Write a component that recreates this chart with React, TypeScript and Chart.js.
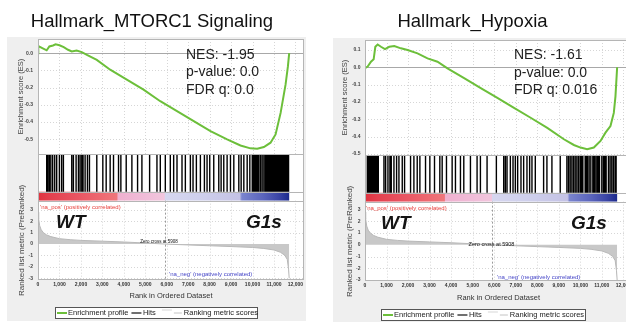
import React, { useEffect, useRef } from "react";
import { Chart, registerables } from "chart.js";

Chart.register(...registerables);

const FONT = "'Liberation Sans', Arial, Helvetica, sans-serif";

// ---------- shared ranked list ----------
const rankTicks = [0, 1000, 2000, 3000, 4000, 5000, 6000, 7000, 8000, 9000, 10000, 11000, 12000];
const metricTicks = [3, 2, 1, 0, -1, -2, -3];
const rankedMetricRank = [0, 30, 80, 150, 250, 400, 600, 1000, 1500, 2000, 3000, 4000, 5000, 5908, 7000, 8000, 9000, 10000, 10500, 11000, 11300, 11500, 11620, 11680, 11710];
const rankedMetricValue = [2.8, 2.2, 1.6, 1.25, 1.0, 0.8, 0.65, 0.47, 0.38, 0.32, 0.25, 0.18, 0.09, 0, -0.08, -0.15, -0.22, -0.3, -0.38, -0.52, -0.72, -0.98, -1.35, -2.2, -3.0];
const zeroCrossRank = 5908;
const listEndRank = 11710;
const colorStopRank = [0, 600, 1800, 3000, 3690, 3720, 5000, 5890, 5920, 7500, 9400, 9500, 10500, 11200, 11710];
const colorStopColor = ["#e0323f", "#e4414f", "#e95462", "#ee6a72", "#ef777c", "#efb0cf", "#f0bcd8", "#f2c6dd", "#d6d6ef", "#cfd0ec", "#c4c2e5", "#7a84ce", "#5a64bc", "#3c46a6", "#1c2a8c"];
const legendLabels = ["Enrichment profile", "Hits", "Ranking metric scores"];
const xAxisTitle = "Rank in Ordered Dataset";
const esAxisTitle = "Enrichment score (ES)";
const metricAxisTitle = "Ranked list metric (PreRanked)";
const posLabel = "'na_pos' (positively correlated)";
const negLabel = "'na_neg' (negatively correlated)";
const groupLabels = ["WT", "G1s"];

// ---------- Hallmark MTORC1 ----------
const mtorcTitle = "Hallmark_MTORC1 Signaling";
const mtorcStats = ["NES: -1.95", "p-value: 0.0", "FDR q: 0.0"];
const mtorcEsTicks = [0, -0.1, -0.2, -0.3, -0.4, -0.5];
const mtorcEsRank = [0, 15, 200, 405, 530, 700, 820, 1000, 1200, 1400, 1573, 1800, 2040, 2280, 2740, 3364, 4140, 4920, 5700, 6480, 7260, 8040, 8816, 9440, 9900, 10220, 10530, 10840, 11075, 11310, 11540, 11650, 11710];
const mtorcEsValue = [0, 0.042, 0.03, 0.017, 0.039, 0.045, 0.052, 0.046, 0.035, 0.02, 0.01, 0.015, 0.006, -0.01, -0.039, -0.096, -0.154, -0.212, -0.279, -0.337, -0.395, -0.453, -0.501, -0.536, -0.553, -0.555, -0.545, -0.52, -0.472, -0.347, -0.183, -0.077, 0];
const mtorcHits = [15, 405, 460, 530, 600, 685, 780, 872, 997, 1100, 1184, 1573, 1650, 1776, 1885, 1963, 2040, 2100, 2196, 2305, 2399, 2741, 3022, 3178, 3364, 3520, 3754, 3863, 4112, 4377, 4642, 4844, 5203, 5545, 5701, 5935, 6168, 6324, 6480, 6713, 6869, 7103, 7227, 7383, 7570, 7757, 7881, 8006, 8193, 8427, 8536, 8660, 8816, 8972, 9128, 9361, 9470, 9595, 9751, 9875, 9988, 10050, 10093, 10140, 10187, 10240, 10296, 10374, 10450, 10530, 10600, 10654, 10700, 10763, 10800, 10841, 10880, 10919, 10960, 10997, 11040, 11075, 11110, 11153, 11190, 11231, 11270, 11308, 11350, 11386, 11420, 11464, 11500, 11542, 11580, 11620, 11650, 11680];

// ---------- Hallmark Hypoxia ----------
const hypoxiaTitle = "Hallmark_Hypoxia";
const hypoxiaStats = ["NES: -1.61", "p-value: 0.0", "FDR q: 0.016"];
const hypoxiaEsTicks = [0.1, 0, -0.1, -0.2, -0.3, -0.4, -0.5];
const hypoxiaEsRank = [0, 124, 278, 402, 479, 587, 742, 927, 1128, 1360, 1668, 1977, 2440, 2904, 3367, 3831, 4603, 5376, 6148, 6920, 7693, 8465, 9237, 9700, 10010, 10319, 10628, 10937, 11169, 11400, 11555, 11632, 11710];
const hypoxiaEsValue = [-0.005, 0.004, 0.032, 0.046, 0.118, 0.131, 0.118, 0.105, 0.118, 0.122, 0.109, 0.099, 0.08, 0.051, 0.032, -0.006, -0.063, -0.12, -0.177, -0.234, -0.291, -0.349, -0.415, -0.448, -0.463, -0.472, -0.463, -0.425, -0.377, -0.339, -0.263, -0.168, 0];
const hypoxiaHits = [108, 155, 216, 263, 309, 371, 417, 463, 525, 572, 618, 880, 958, 1066, 1158, 1220, 1344, 1467, 1576, 1730, 1838, 2116, 2271, 2425, 2549, 2811, 3012, 3228, 3475, 3584, 3784, 4047, 4201, 4433, 4588, 4897, 5205, 5360, 5669, 6101, 6441, 6518, 6596, 6750, 6874, 6982, 7090, 7244, 7368, 7522, 7646, 7754, 7909, 8295, 8449, 8681, 9067, 9376, 9453, 9530, 9608, 9685, 9762, 9839, 9916, 9994, 10060, 10117, 10225, 10290, 10334, 10410, 10488, 10581, 10640, 10689, 10766, 10830, 10890, 10998, 11075, 11140, 11199, 11307, 11384, 11461, 11538, 11616, 11662];

// ---------- layout (positions/sizes only) ----------
const LEFT_LAYOUT = {
  left: 0, width: 313, xMax: 12400,
  pad: { left: 0, right: 9, top: 0, bottom: 20.5 },
  axisW: 38, esMin: -0.586, esMax: 0.0825, metMin: -3.15, metMax: 3.8,
  titlePad: { top: 10.4, bottom: 6.4 }, esTitlePad: 16, metTitlePad: 16.5, tickPad: 5,
  xTickPad: 2, xTitlePad: { top: 1.5, bottom: 1 },
  box: [7, 37, 299, 284],
  stats: { x: 186, y: [55, 72.5, 90] },
  wt: { x: 56, y: 223 }, g1s: { x: 246, y: 223 },
  naPos: { x: 40, y: 207.5 }, naNeg: { x: 169, y: 274 },
  zc: { x: 159, y: 242, size: 4.5 },
  legend: { x: 55, y: 307, w: 203, h: 12 },
};
const RIGHT_LAYOUT = {
  left: 313, width: 350, xMax: 12400,
  pad: { left: 0, right: 31, top: 0, bottom: 18.5 },
  axisW: 52, esMin: -0.506, esMax: 0.157, metMin: -3.08, metMax: 3.68,
  titlePad: { top: 10.4, bottom: 7.4 }, esTitlePad: 27, metTitlePad: 31.5, tickPad: 4.5,
  xTickPad: 2, xTitlePad: { top: 2.5, bottom: 1 },
  box: [20, 38, 340, 284],
  stats: { x: 201, y: [55, 73, 90] },
  wt: { x: 68, y: 224 }, g1s: { x: 258, y: 224 },
  naPos: { x: 53, y: 208 }, naNeg: { x: 184, y: 277 },
  zc: { x: 178.5, y: 244, size: 5.5 },
  legend: { x: 68, y: 309, w: 205, h: 12 },
};

const PANELS = [
  { title: mtorcTitle, stats: mtorcStats, esTicks: mtorcEsTicks, esRank: mtorcEsRank, esValue: mtorcEsValue, hits: mtorcHits, L: LEFT_LAYOUT },
  { title: hypoxiaTitle, stats: hypoxiaStats, esTicks: hypoxiaEsTicks, esRank: hypoxiaEsRank, esValue: hypoxiaEsValue, hits: hypoxiaHits, L: RIGHT_LAYOUT },
];

const GREEN = "#6cbf3a";
const HIT_LO = 0.19;
const HIT_HI = 1;
const CB_Y = 0.0957;

function buildChart(canvas: HTMLCanvasElement, d: any) {
  const L = d.L;
  const hitData: any[] = [];
  d.hits.forEach((h: number) => {
    hitData.push({ x: h, y: HIT_LO }, { x: h, y: HIT_HI }, { x: h, y: null });
  });

  const gradient = (ctx: any) => {
    const ch = ctx.chart;
    const xs = ch.scales && ch.scales.x;
    if (!xs || !ch.chartArea) return colorStopColor[0];
    const x0 = xs.getPixelForValue(0);
    const x1 = xs.getPixelForValue(listEndRank);
    const g = ch.ctx.createLinearGradient(x0, 0, x1, 0);
    colorStopRank.forEach((r, i) => g.addColorStop(r / listEndRank, colorStopColor[i]));
    return g;
  };

  const px = (v: number) => Math.round(v) + 0.5;

  const decor = {
    id: "gseaDecor",
    beforeDraw(chart: any) {
      const { ctx, chartArea: a } = chart;
      ctx.save();
      ctx.fillStyle = "#ffffff";
      ctx.fillRect(0, 0, chart.width, chart.height);
      ctx.fillStyle = "#efefef";
      ctx.fillRect(L.box[0], L.box[1], L.box[2], L.box[3]);
      ctx.fillStyle = "#ffffff";
      ctx.fillRect(a.left, a.top, a.right - a.left, a.bottom - a.top);
      ctx.restore();
    },
    beforeDatasetsDraw(chart: any) {
      const { ctx, chartArea: a, scales } = chart;
      const xs = scales.x, yE = scales.yES, yM = scales.yMetric;
      const seg = (x1: number, y1: number, x2: number, y2: number) => {
        ctx.beginPath(); ctx.moveTo(x1, y1); ctx.lineTo(x2, y2); ctx.stroke();
      };
      ctx.save();
      ctx.lineWidth = 1;
      ctx.strokeStyle = "#d6d6d6";
      ctx.setLineDash([1, 2]);
      rankTicks.forEach((r) => {
        if (r === 0) return;
        const xp = px(xs.getPixelForValue(r));
        seg(xp, yE.top, xp, yE.bottom);
        seg(xp, yM.top, xp, yM.bottom);
      });
      d.esTicks.forEach((v: number) => {
        if (v === 0) return;
        const yp = px(yE.getPixelForValue(v));
        seg(a.left, yp, a.right, yp);
      });
      metricTicks.forEach((v) => {
        if (v === 0) return;
        const yp = px(yM.getPixelForValue(v));
        seg(a.left, yp, a.right, yp);
      });
      ctx.setLineDash([]);
      ctx.strokeStyle = "#a8a8a8";
      const y0 = px(yE.getPixelForValue(0));
      seg(a.left, y0, a.right, y0);
      ctx.restore();
    },
    afterDatasetsDraw(chart: any) {
      const { ctx, chartArea: a, scales } = chart;
      const xs = scales.x, yE = scales.yES, yH = scales.yHits, yM = scales.yMetric;
      const seg = (x1: number, y1: number, x2: number, y2: number) => {
        ctx.beginPath(); ctx.moveTo(x1, y1); ctx.lineTo(x2, y2); ctx.stroke();
      };
      ctx.save();
      // zero cross
      ctx.strokeStyle = "#9a9a9a";
      ctx.lineWidth = 1;
      ctx.setLineDash([2, 2]);
      const zx = px(xs.getPixelForValue(zeroCrossRank));
      seg(zx, yM.top, zx, yM.bottom);
      ctx.setLineDash([]);
      // borders
      ctx.strokeStyle = "#b5b5b5";
      const l = Math.round(a.left), t = Math.round(a.top), r = Math.round(a.right), b = Math.round(a.bottom);
      ctx.strokeRect(l + 0.5, t + 0.5, r - l - 1, b - t - 1);
      seg(l, px(yE.bottom), r, px(yE.bottom));
      seg(l, px(yH.getPixelForValue(HIT_LO)), r, px(yH.getPixelForValue(HIT_LO)));
      seg(l, px(yM.top), r, px(yM.top));

      // stats
      ctx.fillStyle = "#222";
      ctx.textBaseline = "middle";
      ctx.textAlign = "left";
      ctx.font = `14px ${FONT}`;
      d.stats.forEach((s: string, i: number) => ctx.fillText(s, L.stats.x, L.stats.y[i]));
      // correlation labels
      ctx.font = `6px ${FONT}`;
      ctx.fillStyle = "#e8403c";
      ctx.fillText(posLabel, L.naPos.x, L.naPos.y);
      ctx.fillStyle = "#4646c8";
      ctx.fillText(negLabel, L.naNeg.x, L.naNeg.y);
      ctx.fillStyle = "#111";
      ctx.textAlign = "center";
      ctx.font = `${L.zc.size}px ${FONT}`;
      ctx.fillText(`Zero cross at ${zeroCrossRank}`, L.zc.x, L.zc.y);
      // group labels
      ctx.textAlign = "left";
      ctx.font = `italic bold 19px ${FONT}`;
      ctx.fillStyle = "#141414";
      ctx.fillText(groupLabels[0], L.wt.x, L.wt.y);
      ctx.fillText(groupLabels[1], L.g1s.x, L.g1s.y);

      // legend
      const G = L.legend;
      ctx.fillStyle = "#ffffff";
      ctx.fillRect(G.x, G.y, G.w, G.h);
      ctx.strokeStyle = "#555";
      ctx.strokeRect(G.x + 0.5, G.y + 0.5, G.w - 1, G.h - 1);
      const cy = G.y + G.h / 2;
      ctx.font = `7.5px ${FONT}`;
      ctx.fillStyle = "#222";
      ctx.textBaseline = "middle";
      let x = G.x + 2;
      ctx.lineWidth = 2;
      ctx.strokeStyle = GREEN;
      seg(x, cy, x + 10, cy);
      x += 11;
      ctx.fillText(legendLabels[0], x, cy);
      x += ctx.measureText(legendLabels[0]).width + 3;
      ctx.lineWidth = 1.2;
      ctx.strokeStyle = "#111";
      seg(x, cy, x + 10, cy);
      x += 11.5;
      ctx.fillText(legendLabels[1], x, cy);
      x += ctx.measureText(legendLabels[1]).width + 4;
      ctx.lineWidth = 1.5;
      ctx.strokeStyle = "#e4e4e4";
      seg(x + 2, cy - 3, x + 12, cy - 3);
      ctx.strokeStyle = "#c4c4c4";
      ctx.lineWidth = 1;
      seg(x + 14, cy, x + 22, cy);
      x += 24;
      ctx.fillText(legendLabels[2], x, cy);
      ctx.restore();
    },
  };

  const tickFont = { family: FONT, size: 5, weight: "bold" as const };

  return new Chart(canvas, {
    type: "line",
    data: {
      datasets: [
        {
          label: legendLabels[0],
          data: d.esRank.map((r: number, i: number) => ({ x: r, y: d.esValue[i] })),
          yAxisID: "yES",
          borderColor: GREEN,
          borderWidth: 2,
          pointRadius: 0,
          tension: 0,
          order: 0,
        },
        {
          label: legendLabels[1],
          data: hitData,
          yAxisID: "yHits",
          borderColor: "#000",
          borderWidth: 1.4,
          pointRadius: 0,
          spanGaps: false,
          order: 1,
        },
        {
          label: "color bar",
          data: [{ x: 0, y: CB_Y }, { x: listEndRank, y: CB_Y }],
          yAxisID: "yHits",
          borderColor: gradient,
          borderWidth: 9,
          borderCapStyle: "butt",
          pointRadius: 0,
          order: 2,
        },
        {
          label: legendLabels[2],
          data: rankedMetricRank.map((r, i) => ({ x: r, y: rankedMetricValue[i] })),
          yAxisID: "yMetric",
          borderColor: "#b8b8b8",
          backgroundColor: "#c8c8c8",
          borderWidth: 1,
          fill: "origin",
          pointRadius: 0,
          order: 3,
        },
      ] as any,
    },
    options: {
      responsive: false,
      animation: false,
      devicePixelRatio: 1,
      events: [],
      layout: { padding: L.pad },
      plugins: {
        legend: { display: false },
        tooltip: { enabled: false },
        title: {
          display: true,
          text: d.title,
          font: { family: FONT, size: 18.5, weight: "normal" },
          color: "#111",
          padding: L.titlePad,
        },
      },
      scales: {
        x: {
          type: "linear",
          min: 0,
          max: L.xMax,
          grid: { display: false, drawTicks: false },
          border: { display: false },
          afterBuildTicks: (s: any) => { s.ticks = rankTicks.map((v) => ({ value: v })); },
          ticks: {
            font: tickFont, color: "#333", padding: L.xTickPad, maxRotation: 0, autoSkip: false,
            callback: (v: any) => Number(v).toLocaleString("en-US"),
          },
          title: {
            display: true, text: xAxisTitle, color: "#333",
            font: { family: FONT, size: 7.5 }, padding: L.xTitlePad,
          },
        },
        yMetric: {
          type: "linear",
          position: "left",
          stack: "gsea",
          stackWeight: 80,
          min: L.metMin,
          max: L.metMax,
          grid: { display: false, drawTicks: false },
          border: { display: false },
          afterBuildTicks: (s: any) => { s.ticks = metricTicks.map((v) => ({ value: v })); },
          afterFit: (s: any) => { s.width = L.axisW; },
          ticks: { font: tickFont, color: "#444", padding: L.tickPad, autoSkip: false, callback: (v: any) => String(v) },
          title: {
            display: true, text: metricAxisTitle, color: "#444",
            font: { family: FONT, size: 8 }, padding: { top: L.metTitlePad, bottom: 0 },
          },
        },
        yHits: {
          type: "linear",
          position: "left",
          stack: "gsea",
          stackWeight: 47,
          min: 0,
          max: 1,
          grid: { display: false, drawTicks: false },
          border: { display: false },
          afterFit: (s: any) => { s.width = L.axisW; },
          ticks: { display: false },
        },
        yES: {
          type: "linear",
          position: "left",
          stack: "gsea",
          stackWeight: 116,
          min: L.esMin,
          max: L.esMax,
          grid: { display: false, drawTicks: false },
          border: { display: false },
          afterBuildTicks: (s: any) => { s.ticks = d.esTicks.map((v: number) => ({ value: v })); },
          afterFit: (s: any) => { s.width = L.axisW; },
          ticks: { font: tickFont, color: "#444", padding: L.tickPad, autoSkip: false, callback: (v: any) => Number(v).toFixed(1) },
          title: {
            display: true, text: esAxisTitle, color: "#444",
            font: { family: FONT, size: 7.5 }, padding: { top: L.esTitlePad, bottom: 0 },
          },
        },
      } as any,
    },
    plugins: [decor],
  });
}

function Panel({ d }: { d: any }) {
  const ref = useRef<HTMLCanvasElement | null>(null);
  useEffect(() => {
    if (!ref.current) return;
    const chart = buildChart(ref.current, d);
    return () => chart.destroy();
  }, [d]);
  return (
    <canvas
      ref={ref}
      width={d.L.width}
      height={322}
      style={{ position: "absolute", left: d.L.left, top: 0, width: d.L.width, height: 322 }}
    />
  );
}

export default function App() {
  return (
    <div
      style={{
        position: "fixed", left: 0, top: 0, width: 626, height: 322,
        overflow: "hidden", background: "#ffffff",
      }}
    >
      {PANELS.map((p, i) => (
        <Panel key={i} d={p} />
      ))}
    </div>
  );
}
